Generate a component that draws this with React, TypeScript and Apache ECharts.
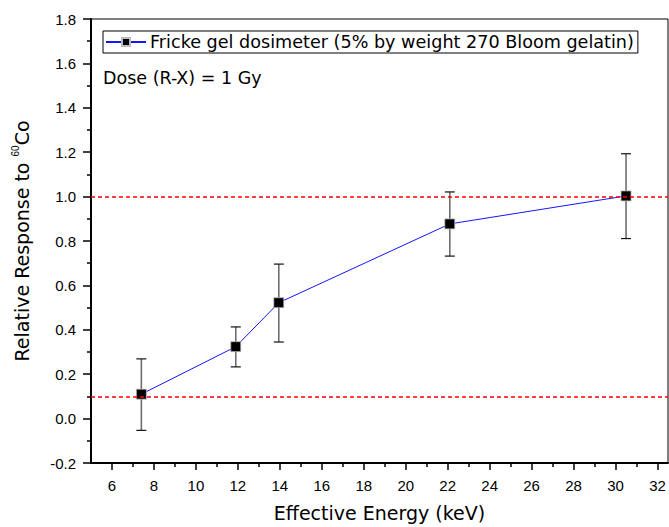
import React, { useEffect, useRef } from "react";
import * as echarts from "echarts";

const energies = [7.4, 11.9, 13.95, 22.1, 30.5];
const response = [0.11, 0.324, 0.522, 0.877, 1.003];
const errLow = [-0.053, 0.233, 0.345, 0.732, 0.811];
const errHigh = [0.269, 0.413, 0.696, 1.021, 1.193];
const refLines = [1.0, 0.1];
const xMajorTicks = [6, 8, 10, 12, 14, 16, 18, 20, 22, 24, 26, 28, 30, 32];
const xMinorTicks = [7, 9, 11, 13, 15, 17, 19, 21, 23, 25, 27, 29, 31];
const seriesName = "Fricke gel dosimeter (5% by weight 270 Bloom gelatin)";
const FONT = "'Liberation Sans', Arial, Helvetica, sans-serif";
const WIDE = "'DejaVu Sans', 'Liberation Sans', sans-serif";

export default function App() {
  const ref = useRef<HTMLDivElement>(null);
  useEffect(() => {
    if (!ref.current) return;
    const chart = echarts.init(ref.current, null, { renderer: "svg" });
    const errData = energies.map((e, i) => [e, errLow[i], errHigh[i]]);
    const lineData = energies.map((e, i) => [e, response[i]]);
    chart.setOption({
      animation: false,
      backgroundColor: "#fff",
      textStyle: { fontFamily: FONT },
      grid: {
        left: 91,
        top: 19,
        right: 1,
        bottom: 62,
        show: true,
        borderColor: "#000",
        borderWidth: 1,
        backgroundColor: "transparent",
      },
      legend: {
        left: 103,
        top: 31,
        data: [seriesName],
        itemWidth: 40,
        itemHeight: 10,
        itemGap: 4,
        borderColor: "#000",
        borderWidth: 1,
        padding: [2, 4, 2, 2],
        textStyle: { fontFamily: WIDE, fontSize: 17.6, color: "#000", padding: [0, 0, 0, -1] },
      },
      graphic: [
        {
          type: "text",
          left: 103,
          top: 69,
          style: { text: "Dose (R-X) = 1 Gy", font: `17.5px ${WIDE}`, fill: "#000" },
        },
      ],
      xAxis: [
        {
          type: "value",
          min: 5,
          max: 32.5,
          name: "Effective Energy (keV)",
          nameLocation: "middle",
          nameGap: 40,
          nameTextStyle: { fontFamily: WIDE, fontSize: 19, color: "#000" },
          axisLine: { show: true, onZero: false, lineStyle: { color: "#000", width: 2 } },
          axisTick: { show: true, length: 7, customValues: xMajorTicks, lineStyle: { color: "#000", width: 1.5 } },
          axisLabel: { show: true, customValues: xMajorTicks, margin: 15, fontFamily: FONT, fontSize: 15, color: "#000" },
          splitLine: { show: false },
        },
        {
          type: "value",
          min: 5,
          max: 32.5,
          position: "bottom",
          axisLine: { show: false, onZero: false },
          axisTick: { show: true, length: 4, customValues: xMinorTicks, lineStyle: { color: "#000", width: 1.5 } },
          axisLabel: { show: false },
          splitLine: { show: false },
        },
      ],
      yAxis: {
        type: "value",
        min: -0.2,
        max: 1.8,
        interval: 0.2,
        name: "{a|Relative Response to }{s|60}{a|Co}",
        nameLocation: "middle",
        nameGap: 58,
        nameTextStyle: {
          fontFamily: WIDE,
          color: "#000",
          rich: {
            a: { fontFamily: WIDE, fontSize: 19, color: "#000", lineHeight: 23 },
            s: { fontFamily: FONT, fontSize: 10, color: "#000", lineHeight: 10, verticalAlign: "top" },
          },
        },
        axisLine: { show: true, onZero: false, lineStyle: { color: "#000", width: 2 } },
        axisTick: { show: true, length: 8, lineStyle: { color: "#000", width: 1.5 } },
        minorTick: { show: true, splitNumber: 2, length: 4, lineStyle: { color: "#000", width: 1.5 } },
        axisLabel: {
          margin: 15,
          fontFamily: FONT,
          fontSize: 15,
          color: "#000",
          formatter: (v: number) => v.toFixed(1),
        },
        splitLine: { show: false },
      },
      series: [
        {
          type: "custom",
          name: "err",
          xAxisIndex: 0,
          yAxisIndex: 0,
          data: errData,
          encode: { x: 0, y: [1, 2] },
          z: 2,
          renderItem: (params: any, api: any) => {
            const x = api.value(0);
            const top = api.coord([x, api.value(2)]);
            const bot = api.coord([x, api.value(1)]);
            const hw = 5;
            return {
              type: "group",
              children: [
                { type: "line", shape: { x1: top[0], y1: top[1], x2: bot[0], y2: bot[1] }, style: { stroke: "#6e6e6e", lineWidth: 1.6 } },
                { type: "line", shape: { x1: top[0] - hw, y1: top[1], x2: top[0] + hw, y2: top[1] }, style: { stroke: "#111", lineWidth: 1.2 } },
                { type: "line", shape: { x1: bot[0] - hw, y1: bot[1], x2: bot[0] + hw, y2: bot[1] }, style: { stroke: "#111", lineWidth: 1.2 } },
              ],
            };
          },
        },
        {
          type: "line",
          name: seriesName,
          xAxisIndex: 0,
          yAxisIndex: 0,
          data: lineData,
          z: 3,
          symbol: "rect",
          symbolSize: 10,
          lineStyle: { color: "#1515ff", width: 1 },
          itemStyle: { color: "#000", borderColor: "#bbb", borderWidth: 0.8 },
          markLine: {
            silent: true,
            symbol: "none",
            z: 5,
            label: { show: false },
            lineStyle: { color: "#ff0000", type: [4, 3], width: 1.6 },
            data: refLines.map((v) => ({ yAxis: v })),
          },
        },
      ],
    });
    return () => chart.dispose();
  }, []);
  return <div ref={ref} style={{ width: 669, height: 527, position: "absolute", left: 0, top: 0 }} />;
}
